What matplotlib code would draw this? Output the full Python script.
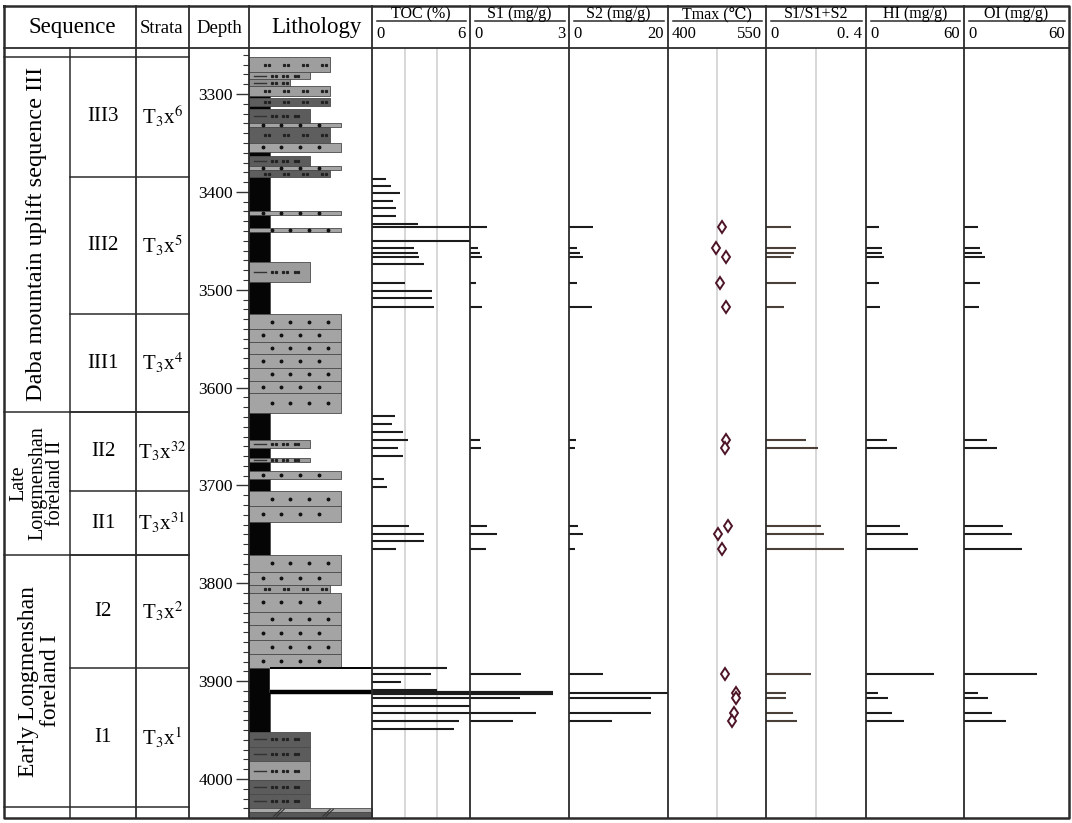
import numpy as np
import matplotlib.pyplot as plt
from matplotlib.ticker import MultipleLocator

plt.rcParams['font.family'] = ['Liberation Serif', 'DejaVu Serif']
plt.rcParams['mathtext.fontset'] = 'stix'

toc_depth = [3387, 3394, 3401, 3409, 3417, 3425, 3433, 3436, 3450, 3457, 3462, 3467, 3474,
             3493, 3501, 3508, 3518,
             3629, 3637, 3645, 3654, 3662, 3670, 3693, 3702,
             3741, 3750, 3757, 3765,
             3887, 3893, 3901, 3909, 3912, 3917, 3925, 3933, 3941, 3949]
toc = [0.86, 1.16, 1.7, 1.3, 1.47, 1.47, 2.8, 6.5, 6.5, 2.6, 2.8, 2.9, 3.2,
       2.0, 3.7, 3.7, 3.8,
       1.4, 1.2, 1.9, 2.2, 1.6, 1.9, 0.73, 0.9,
       2.28, 3.17, 3.17, 1.46,
       4.6, 3.6, 1.8, 4.0, 6.5, 6.5, 6.5, 6.5, 5.3, 5.0]

re_depth = [3436, 3457, 3462, 3467, 3493, 3518, 3654, 3662, 3741, 3750, 3765,
            3893, 3912, 3917, 3933, 3941]
s1 = [0.52, 0.24, 0.3, 0.37, 0.18, 0.37, 0.3, 0.34, 0.51, 0.81, 0.48,
      1.55, 2.5, 1.5, 2.0, 1.3]
s2 = [4.8, 1.6, 2.2, 2.8, 1.6, 4.6, 1.5, 1.15, 1.8, 2.8, 1.2,
      6.8, 22.0, 16.5, 16.6, 8.6]
tmax = [483, 474, np.nan, 489, 479, 489, 489, 487, 492, 476, 482,
        487.5, 504, 504, 501.5, 498.5]
s1_ratio = [0.10, 0.12, 0.11, 0.10, 0.12, 0.07, 0.158, 0.206, 0.22, 0.23, 0.31,
            0.178, 0.08, 0.08, 0.109, 0.125]
hi = [8, 9.8, 9.8, 11, 8, 8.6, 12.7, 18.8, 20.6, 25.9, 31.7,
      41.6, 7.5, 13.7, 15.7, 23.5]
oi = [8, 9.1, 10, 12, 9, 8.6, 13, 18.9, 22, 27.2, 33,
      41.5, 8.2, 13.9, 15.8, 23.8]

litho_top = [3262, 3278, 3285, 3292, 3302, 3304, 3312, 3315, 3330, 3334, 3350, 3359, 3363, 3374, 3378,
             3385, 3420, 3424, 3437, 3441, 3472, 3492,
             3525, 3540, 3553, 3566, 3580, 3593, 3606,
             3626, 3654, 3662, 3672, 3676, 3685, 3693,
             3706, 3721, 3737,
             3771, 3788, 3802, 3810, 3829, 3843, 3858, 3872,
             3887, 3952, 3967, 3982, 4001, 4015, 4030, 4034]
litho_base = litho_top[1:] + [4040]
litho_kind = ['silt_l', 'siltmud_l', 'mudsilt', 'silt_l', 'mud', 'silt_d', 'mud', 'siltmud_d', 'sand',
              'silt_d', 'sand', 'mud', 'siltmud_d', 'sand', 'silt_d',
              'mud', 'sand', 'mud', 'sand', 'mud', 'siltmud_l', 'mud',
              'sand', 'sand', 'sand', 'sand', 'sand', 'sand', 'sand',
              'mud', 'siltmud_l', 'mud', 'siltmud_l', 'mud', 'sand', 'mud',
              'sand', 'sand', 'mud',
              'sand', 'sand', 'silt_l', 'sand', 'sand', 'sand', 'sand', 'sand',
              'mud', 'siltmud_d', 'siltmud_d', 'siltmud_l', 'siltmud_d', 'siltmud_d', 'base_l', 'base_d']
core_box = (3887, 3911)

seq_lines = [['Daba mountain uplift sequence III'],
             ['Late', 'Longmenshan', 'foreland II'],
             ['Early Longmenshan', 'foreland I']]
seq_bounds = [3262, 3625, 3771, 4029]
sub_names = ['III3', 'III2', 'III1', 'II2', 'II1', 'I2', 'I1']
sub_strata = ['6', '5', '4', '32', '31', '2', '1']
sub_bounds = [3262, 3385, 3525, 3625, 3706, 3771, 3887, 4029]

columns = [('TOC (%)', '0', '6', 0, 6),
           ('S1 (mg/g)', '0', '3', 0, 3),
           ('S2 (mg/g)', '0', '20', 0, 20),
           ('Tmax (℃)', '400', '550', 400, 550),
           ('S1/S1+S2', '0', '0. 4', 0, 0.4),
           ('HI (mg/g)', '0', '60', 0, 60),
           ('OI (mg/g)', '0', '60', 0, 60)]

# ---------------- layout (pixels) ----------------
W, H = 1072, 823
D_TOP, D_BOT = 3253.0, 4039.8
Y_TOP, Y_BOT = 48, 818
col_x = [372, 470, 569, 668, 766, 866, 964, 1069]
LITH_X0, LITH_X1 = 249, 372


def px_axes(x0, x1, y0, y1):
    return fig.add_axes([x0 / W, 1 - y1 / H, (x1 - x0) / W, (y1 - y0) / H])


def d2y(d):
    return Y_TOP + (d - D_TOP) / (D_BOT - D_TOP) * (Y_BOT - Y_TOP)


fig = plt.figure(figsize=(W / 100, H / 100), dpi=100)

# ---- lithology column ----
kinds = {
    'mud': (0.171, '#050505', None),
    'mudsilt': (0.333, '#8e8e8e', 'dashpair'),
    'siltmud_d': (0.496, '#5c5c5c', 'dashpair'),
    'siltmud_l': (0.496, '#9c9c9c', 'dashpair'),
    'silt_d': (0.659, '#5e5e5e', 'pair'),
    'silt_l': (0.659, '#9e9e9e', 'pair'),
    'sand': (0.748, '#a4a4a4', 'dot'),
    'base_l': (1.0, '#a8a8a8', None),
    'base_d': (1.0, '#575757', None),
}
axl = px_axes(LITH_X0, LITH_X1, Y_TOP, Y_BOT)
axl.set_xlim(0, 1)
axl.set_ylim(D_BOT, D_TOP)
axl.set_facecolor('none')
for s in axl.spines.values():
    s.set_visible(False)
row = 0
for top, base, kind in zip(litho_top, litho_base, litho_kind):
    w, c, pat = kinds[kind]
    axl.fill_between([0, w], top, base, color=c, ec='#4a4a4a', lw=0.6)
    if pat is None:
        continue
    thick_px = (base - top) * (Y_BOT - Y_TOP) / (D_BOT - D_TOP)
    nrow = max(1, int(round(thick_px / 14)))
    for k in range(nrow):
        yy = top + (base - top) * (k + 0.5) / nrow
        if pat == 'dot':
            off = 0.075 if row % 2 else 0.0
            xs = np.arange(0.11 + off, w - 0.04, 0.152)
            axl.plot(xs, [yy] * len(xs), 'o', color='#111', ms=1.8)
        elif pat == 'pair':
            xs = np.arange(0.13, w - 0.06, 0.155)
            axl.plot(np.r_[xs, xs + 0.035], [yy] * (2 * len(xs)), 's', color='#222', ms=1.3)
        else:
            axl.plot([0.04, 0.14], [yy, yy], color='#333', lw=1)
            xs = np.arange(0.19, w - 0.05, 0.09)
            axl.plot(np.r_[xs, xs + 0.03], [yy] * (2 * len(xs)), 's', color='#222', ms=1.3)
        row += 1
# core interval box
axl.fill_between([0.171, 1.0], core_box[0], core_box[1], color='white', zorder=3)
axl.hlines(core_box[0], 0.171, 1.0, color='black', lw=1.4, zorder=4)
axl.hlines(core_box[1], 0.171, 1.0, color='black', lw=3.2, zorder=4)
# break marks on the base band
for xb in (0.23, 0.63):
    axl.plot([xb - 0.03, xb + 0.03], [4038, 4031], color='#333', lw=0.8)
    axl.plot([xb - 0.005, xb + 0.055], [4038, 4031], color='#333', lw=0.8)

axl.set_xticks([])
axl.yaxis.set_major_locator(MultipleLocator(100))
axl.yaxis.set_minor_locator(MultipleLocator(10))
axl.tick_params(axis='y', which='major', length=9.5, width=1, pad=2, labelsize=12.5, color='#333')
axl.tick_params(axis='y', which='minor', length=4, width=0.8, color='#333')

# ---- data columns ----
series = [toc, s1, s2, tmax, s1_ratio, hi, oi]
grids = [[2, 4], [], [], [475], [0.2], [], []]
bar_colors = ['#1c1c1c', '#1c1c1c', '#1c1c1c', None, '#4a4038', '#1c1c1c', '#1c1c1c']
for i, (title, lo_lab, hi_lab, lo, hi_v) in enumerate(columns):
    ax = px_axes(col_x[i], col_x[i + 1], Y_TOP, Y_BOT)
    ax.set_xlim(lo, hi_v)
    ax.set_ylim(D_BOT, D_TOP)
    ax.set_facecolor('none')
    ax.axis('off')
    for g in grids[i]:
        ax.axvline(g, color='#d4d4d4', lw=1.3, zorder=0)
    depths = np.array(toc_depth if i == 0 else re_depth)
    if i == 3:
        ax.plot(series[i], depths, 'd', ms=6, mfc='white', mec='#4d1526', mew=1.4)
    else:
        # the sample at the base of the core box is drawn heavier, as in the log
        lws = np.where(np.abs(depths - core_box[1]) < 1.5, 3.0, 1.5) if i < 2 else 1.5
        ax.hlines(depths, lo, series[i], color=bar_colors[i], lw=lws)

# ---- frame, header and labels ----
ov = fig.add_axes([0, 0, 1, 1])
ov.set_xlim(0, W)
ov.set_ylim(H, 0)
ov.axis('off')
ov.set_facecolor('none')
LC = '#2b2b2b'
ov.plot([4, 1069, 1069, 4, 4], [6, 6, 818, 818, 6], color=LC, lw=1.8)
ov.plot([4, 1069], [48, 48], color=LC, lw=1.3)
for x in [136, 189, 249] + col_x[:-1]:
    ov.plot([x, x], [6, 818], color=LC, lw=1.3)
ov.plot([70, 70], [48, 818], color=LC, lw=1.1)
ov.plot([4, 189], [57, 57], color=LC, lw=1.1)
for d in seq_bounds[1:]:
    ov.plot([4, 189], [d2y(d)] * 2, color=LC, lw=1.1)
for d in sub_bounds[1:-1]:
    ov.plot([70, 189], [d2y(d)] * 2, color=LC, lw=1.1)

ov.text(72, 27, 'Sequence', ha='center', va='center', fontsize=16.5)
ov.text(162, 28, 'Strata', ha='center', va='center', fontsize=13.5)
ov.text(219, 28, 'Depth', ha='center', va='center', fontsize=13.5)
ov.text(316, 27, 'Lithology', ha='center', va='center', fontsize=16.5)

for i, (title, lo_lab, hi_lab, lo, hi_v) in enumerate(columns):
    x0, x1 = col_x[i], col_x[i + 1]
    ov.text((x0 + x1) / 2, 18, title, ha='center', va='baseline', fontsize=11.5)
    ov.plot([x0 + 5, x1 - 4], [21, 21], color=LC, lw=1.1)
    ov.text(x0 + 4, 34, lo_lab, ha='left', va='center', fontsize=12)
    ov.text(x1 - 4, 34, hi_lab, ha='right', va='center', fontsize=12)

seq_x = [[37], [18.5, 37.5, 56], [29, 50]]
seq_fs = [17.5, 14.5, 17]
for lines, a, b, xs, fs in zip(seq_lines, seq_bounds[:-1], seq_bounds[1:], seq_x, seq_fs):
    yc = (d2y(a) + d2y(b)) / 2
    for txt, x in zip(lines, xs):
        ov.text(x, yc, txt, rotation=90, ha='center', va='center', fontsize=fs)
for name, st, a, b in zip(sub_names, sub_strata, sub_bounds[:-1], sub_bounds[1:]):
    yc = (d2y(a) + d2y(b)) / 2
    ov.text(103, yc, name, ha='center', va='center', fontsize=15)
    ov.text(162, yc, r'T$_3$x$^{%s}$' % st, ha='center', va='center', fontsize=15)

fig.savefig('out.png', dpi=100)
